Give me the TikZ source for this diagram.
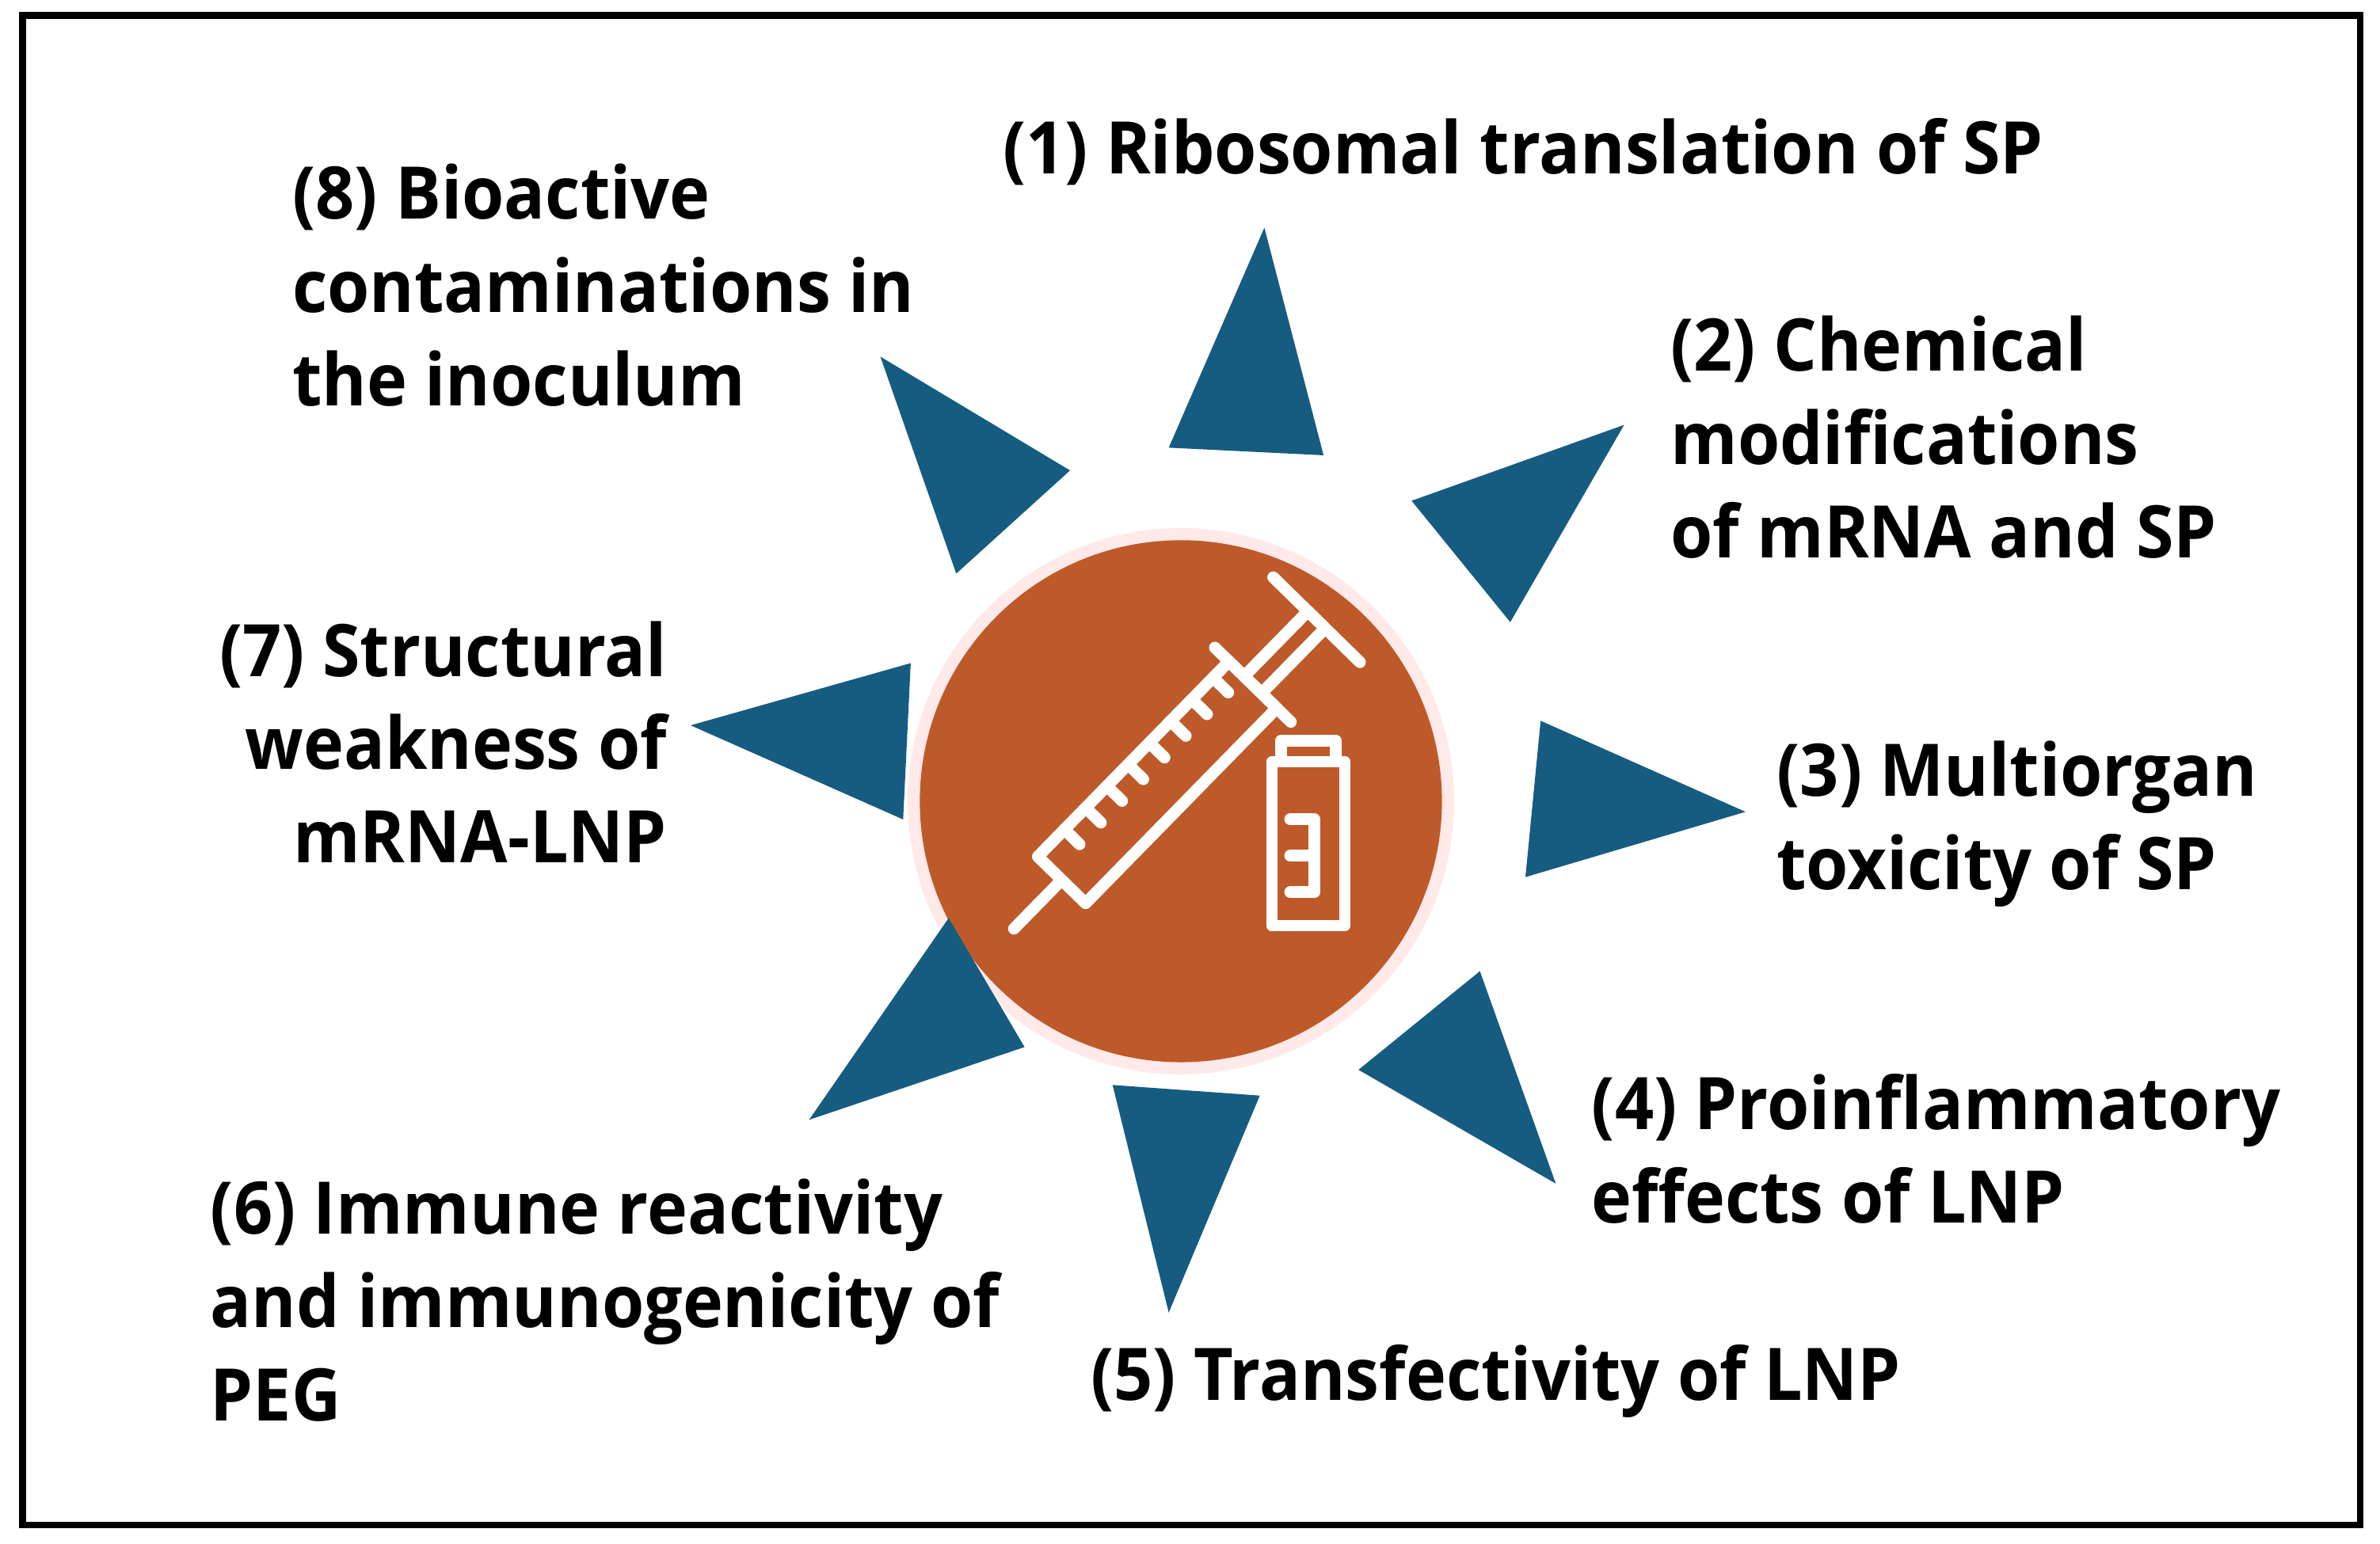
\documentclass[tikz,border=0pt]{standalone}
\usepackage{fontspec}
\setmainfont[FakeStretch=0.94]{Open Sans}
\begin{document}
\begin{tikzpicture}[x=0.01cm,y=0.01cm,
  tri/.style={fill=tribl,draw=none},
  lab/.style={font=\fontsize{13.6}{17.5}\selectfont\bfseries,inner sep=0,align=left,text=black},
  wl/.style={draw=white,line width=2.2pt,line cap=round,line join=round}]
\definecolor{tribl}{HTML}{165C80}
\definecolor{orng}{HTML}{BE5A2A}
\useasboundingbox (0,0) rectangle (1568,-1017);
\draw[line width=1.3pt] (15,-10) rectangle (1555,-1005);
% circle
\fill[pink!35] (778,-528) circle (180);
\fill[orng] (778,-528) circle (172);
% triangles
\fill[tri] (770,-295)--(833,-150)--(872,-300)--cycle;
\fill[tri] (930,-330)--(1070,-280)--(995,-410)--cycle;
\fill[tri] (1015,-475)--(1150,-535)--(1005,-578)--cycle;
\fill[tri] (975,-640)--(1025,-780)--(895,-705)--cycle;
\fill[tri] (733,-715)--(830,-722)--(770,-865)--cycle;
\fill[tri] (625,-605)--(675,-690)--(533,-738)--cycle;
\fill[tri] (600,-437)--(455,-478)--(595,-540)--cycle;
\fill[tri] (580,-235)--(705,-310)--(630,-378)--cycle;
% syringe
\begin{scope}[shift={(668,-612)},rotate=45.6]
 \draw[wl] (0,0)--(45,0);
 \draw[wl] (45,-22) rectangle (225,22);
 \draw[wl] (225,-35)--(225,35);
 \draw[wl] (225,-8) rectangle (285,8);
 \draw[wl] (285,-40)--(285,40);
 \foreach \t in {70,90,...,210} \draw[wl] (\t,22)--(\t,8);
\end{scope}
% vial
\draw[wl] (838,-502) rectangle (886,-610);
\draw[wl] (844,-488) rectangle (880,-502);
\draw[wl] (850,-540)--(866,-540)--(866,-588)--(850,-588);
\draw[wl] (850,-564)--(866,-564);
% labels
\node[lab,anchor=west] (l1) at (660,-100) {(1) Ribosomal translation of SP};
\node[lab,anchor=west] (l2) at (1100,-288) {(2) Chemical\\modifications\\of mRNA and SP};
\node[lab,anchor=west] (l3) at (1170,-543) {(3) Multiorgan\\toxicity of SP};
\node[lab,anchor=west] (l4) at (1048,-757) {(4) Proinflammatory\\effects of LNP};
\node[lab,anchor=west] (l5) at (718,-910) {(5) Transfectivity of LNP};
\node[lab,anchor=west] (l6) at (138,-857) {(6) Immune reactivity\\and immunogenicity of\\PEG};
\node[lab,anchor=east,align=right] (l7) at (440,-489) {(7) Structural\\weakness of\\mRNA-LNP};
\node[lab,anchor=west] (l8) at (192,-188) {(8) Bioactive\\contaminations in\\the inoculum};
\end{tikzpicture}
\end{document}
